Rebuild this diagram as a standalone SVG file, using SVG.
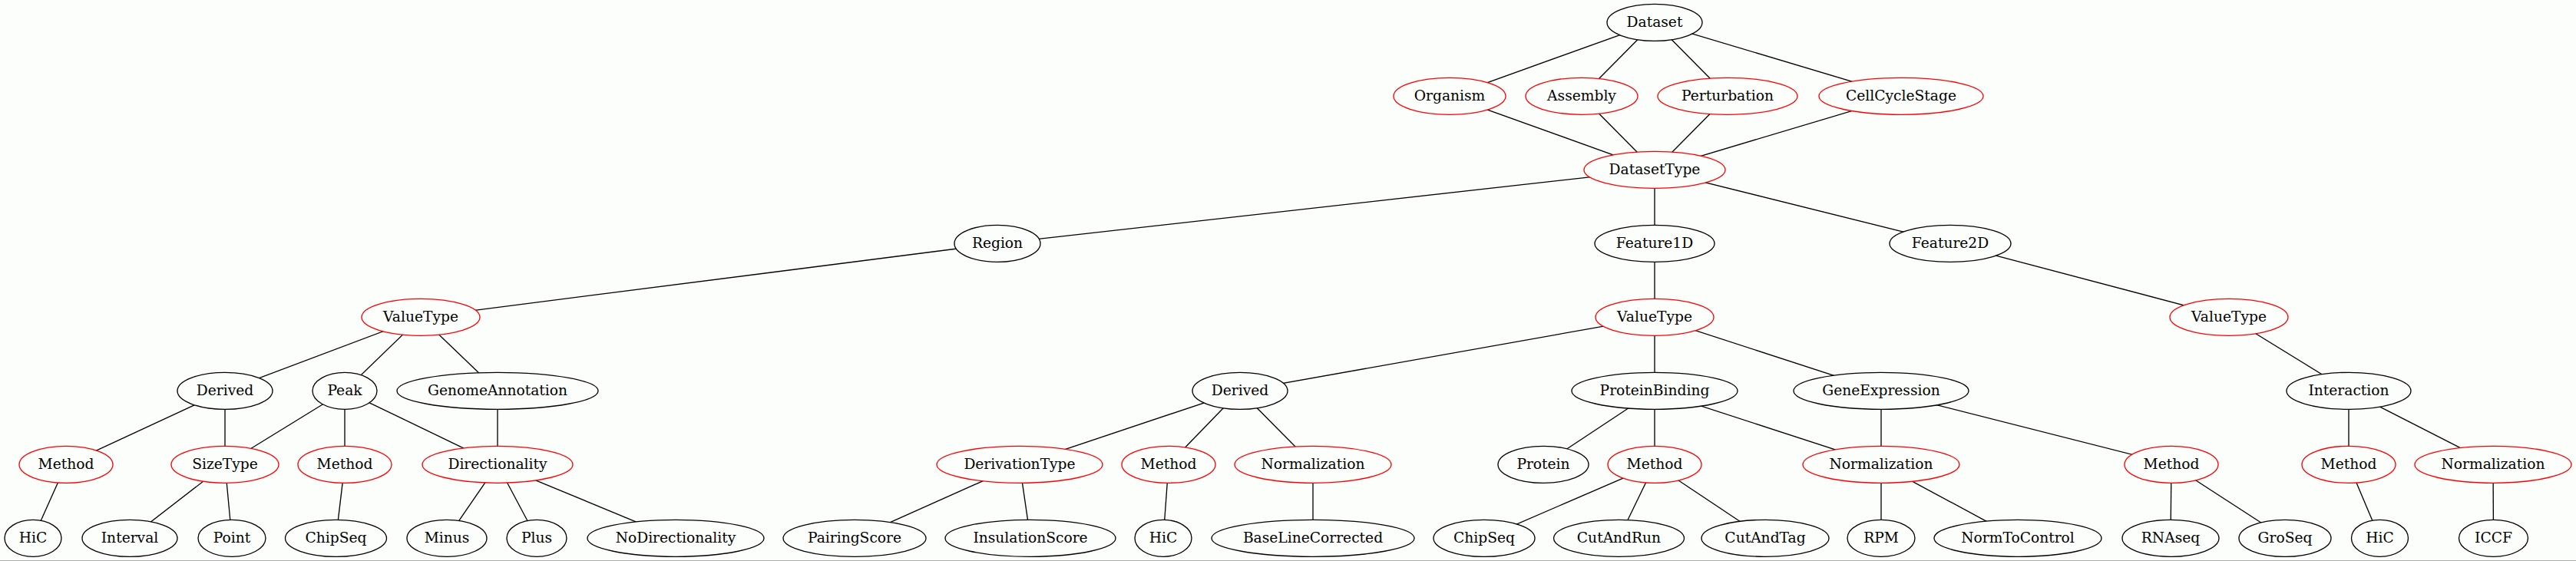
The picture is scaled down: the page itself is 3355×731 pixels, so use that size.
<svg xmlns="http://www.w3.org/2000/svg" width="3355" height="731" viewBox="0 0 3355 731">
<style>
.n ellipse{fill:#fcfefc;stroke:#000;stroke-width:1.33}
.r ellipse{stroke:#ff0000}
text{font-family:"DejaVu Serif","Liberation Serif",serif;font-size:18.67px;text-anchor:middle;fill:#000}
#edges line{stroke:#000;stroke-width:1.33}
</style>
<rect x="0" y="0" width="3355" height="731" fill="#fcfefc"/>
<rect x="0" y="730" width="3355" height="1" fill="#aaaaaa"/>
<g id="edges">
<line x1="2155" y1="29.3" x2="1888" y2="125.3"/>
<line x1="2155" y1="29.3" x2="2060" y2="125.3"/>
<line x1="2155" y1="29.3" x2="2250" y2="125.3"/>
<line x1="2155" y1="29.3" x2="2476" y2="125.3"/>
<line x1="1888" y1="125.3" x2="2155" y2="221.3"/>
<line x1="2060" y1="125.3" x2="2155" y2="221.3"/>
<line x1="2250" y1="125.3" x2="2155" y2="221.3"/>
<line x1="2476" y1="125.3" x2="2155" y2="221.3"/>
<line x1="2155" y1="221.3" x2="1299" y2="317.3"/>
<line x1="2155" y1="221.3" x2="2155" y2="317.3"/>
<line x1="2155" y1="221.3" x2="2540" y2="317.3"/>
<line x1="1299" y1="317.3" x2="548" y2="413.3"/>
<line x1="2155" y1="317.3" x2="2155" y2="413.3"/>
<line x1="2540" y1="317.3" x2="2903" y2="413.3"/>
<line x1="548" y1="413.3" x2="293" y2="509.3"/>
<line x1="548" y1="413.3" x2="449" y2="509.3"/>
<line x1="548" y1="413.3" x2="648" y2="509.3"/>
<line x1="293" y1="509.3" x2="86" y2="605.3"/>
<line x1="293" y1="509.3" x2="293" y2="605.3"/>
<line x1="449" y1="509.3" x2="293" y2="605.3"/>
<line x1="449" y1="509.3" x2="449" y2="605.3"/>
<line x1="449" y1="509.3" x2="648" y2="605.3"/>
<line x1="648" y1="509.3" x2="648" y2="605.3"/>
<line x1="86" y1="605.3" x2="43" y2="701.3"/>
<line x1="293" y1="605.3" x2="169" y2="701.3"/>
<line x1="293" y1="605.3" x2="302" y2="701.3"/>
<line x1="449" y1="605.3" x2="437.5" y2="701.3"/>
<line x1="648" y1="605.3" x2="582" y2="701.3"/>
<line x1="648" y1="605.3" x2="699" y2="701.3"/>
<line x1="648" y1="605.3" x2="880" y2="701.3"/>
<line x1="2155" y1="413.3" x2="1615" y2="509.3"/>
<line x1="2155" y1="413.3" x2="2155" y2="509.3"/>
<line x1="2155" y1="413.3" x2="2450" y2="509.3"/>
<line x1="1615" y1="509.3" x2="1328" y2="605.3"/>
<line x1="1615" y1="509.3" x2="1522" y2="605.3"/>
<line x1="1615" y1="509.3" x2="1710" y2="605.3"/>
<line x1="1328" y1="605.3" x2="1113" y2="701.3"/>
<line x1="1328" y1="605.3" x2="1342" y2="701.3"/>
<line x1="1522" y1="605.3" x2="1515" y2="701.3"/>
<line x1="1710" y1="605.3" x2="1710" y2="701.3"/>
<line x1="2155" y1="509.3" x2="2010" y2="605.3"/>
<line x1="2155" y1="509.3" x2="2155" y2="605.3"/>
<line x1="2155" y1="509.3" x2="2450" y2="605.3"/>
<line x1="2450" y1="509.3" x2="2450" y2="605.3"/>
<line x1="2450" y1="509.3" x2="2828" y2="605.3"/>
<line x1="2155" y1="605.3" x2="1933" y2="701.3"/>
<line x1="2155" y1="605.3" x2="2108.5" y2="701.3"/>
<line x1="2155" y1="605.3" x2="2299" y2="701.3"/>
<line x1="2450" y1="605.3" x2="2450" y2="701.3"/>
<line x1="2450" y1="605.3" x2="2628" y2="701.3"/>
<line x1="2828" y1="605.3" x2="2827" y2="701.3"/>
<line x1="2828" y1="605.3" x2="2976" y2="701.3"/>
<line x1="2903" y1="413.3" x2="3059" y2="509.3"/>
<line x1="3059" y1="509.3" x2="3059" y2="605.3"/>
<line x1="3059" y1="509.3" x2="3247" y2="605.3"/>
<line x1="3059" y1="605.3" x2="3099.5" y2="701.3"/>
<line x1="3247" y1="605.3" x2="3247.5" y2="701.3"/>
</g>
<g id="Dataset" class="n"><ellipse cx="2155" cy="29.3" rx="62" ry="24"/><text x="2155" y="34.6">Dataset</text></g>
<g id="Organism" class="n r"><ellipse cx="1888" cy="125.3" rx="73" ry="24"/><text x="1888" y="130.6">Organism</text></g>
<g id="Assembly" class="n r"><ellipse cx="2060" cy="125.3" rx="73" ry="24"/><text x="2060" y="130.6">Assembly</text></g>
<g id="Perturbation" class="n r"><ellipse cx="2250" cy="125.3" rx="91" ry="24"/><text x="2250" y="130.6">Perturbation</text></g>
<g id="CellCycleStage" class="n r"><ellipse cx="2476" cy="125.3" rx="107" ry="24"/><text x="2476" y="130.6">CellCycleStage</text></g>
<g id="DatasetType" class="n r"><ellipse cx="2155" cy="221.3" rx="92" ry="24"/><text x="2155" y="226.6">DatasetType</text></g>
<g id="Region" class="n"><ellipse cx="1299" cy="317.3" rx="56" ry="24"/><text x="1299" y="322.6">Region</text></g>
<g id="Feature1D" class="n"><ellipse cx="2155" cy="317.3" rx="78" ry="24"/><text x="2155" y="322.6">Feature1D</text></g>
<g id="Feature2D" class="n"><ellipse cx="2540" cy="317.3" rx="79" ry="24"/><text x="2540" y="322.6">Feature2D</text></g>
<g id="Region_ValueType" class="n r"><ellipse cx="548" cy="413.3" rx="77" ry="24"/><text x="548" y="418.6">ValueType</text></g>
<g id="Feature1D_ValueType" class="n r"><ellipse cx="2155" cy="413.3" rx="77" ry="24"/><text x="2155" y="418.6">ValueType</text></g>
<g id="Feature2D_ValueType" class="n r"><ellipse cx="2903" cy="413.3" rx="77" ry="24"/><text x="2903" y="418.6">ValueType</text></g>
<g id="Region_Derived" class="n"><ellipse cx="293" cy="509.3" rx="62" ry="24"/><text x="293" y="514.6">Derived</text></g>
<g id="Peak" class="n"><ellipse cx="449" cy="509.3" rx="42" ry="24"/><text x="449" y="514.6">Peak</text></g>
<g id="GenomeAnnotation" class="n"><ellipse cx="648" cy="509.3" rx="131" ry="24"/><text x="648" y="514.6">GenomeAnnotation</text></g>
<g id="Feature1D_Derived" class="n"><ellipse cx="1615" cy="509.3" rx="62" ry="24"/><text x="1615" y="514.6">Derived</text></g>
<g id="ProteinBinding" class="n"><ellipse cx="2155" cy="509.3" rx="108" ry="24"/><text x="2155" y="514.6">ProteinBinding</text></g>
<g id="GeneExpression" class="n"><ellipse cx="2450" cy="509.3" rx="114" ry="24"/><text x="2450" y="514.6">GeneExpression</text></g>
<g id="Interaction" class="n"><ellipse cx="3059" cy="509.3" rx="81" ry="24"/><text x="3059" y="514.6">Interaction</text></g>
<g id="Derived_Method" class="n r"><ellipse cx="86" cy="605.3" rx="61" ry="24"/><text x="86" y="610.6">Method</text></g>
<g id="SizeType" class="n r"><ellipse cx="293" cy="605.3" rx="70" ry="24"/><text x="293" y="610.6">SizeType</text></g>
<g id="Peak_Method" class="n r"><ellipse cx="449" cy="605.3" rx="61" ry="24"/><text x="449" y="610.6">Method</text></g>
<g id="Directionality" class="n r"><ellipse cx="648" cy="605.3" rx="98" ry="24"/><text x="648" y="610.6">Directionality</text></g>
<g id="DerivationType" class="n r"><ellipse cx="1328" cy="605.3" rx="108" ry="24"/><text x="1328" y="610.6">DerivationType</text></g>
<g id="F1Derived_Method" class="n r"><ellipse cx="1522" cy="605.3" rx="61" ry="24"/><text x="1522" y="610.6">Method</text></g>
<g id="F1Derived_Normalization" class="n r"><ellipse cx="1710" cy="605.3" rx="102" ry="24"/><text x="1710" y="610.6">Normalization</text></g>
<g id="Protein" class="n"><ellipse cx="2010" cy="605.3" rx="59" ry="24"/><text x="2010" y="610.6">Protein</text></g>
<g id="ProteinBinding_Method" class="n r"><ellipse cx="2155" cy="605.3" rx="61" ry="24"/><text x="2155" y="610.6">Method</text></g>
<g id="Expression_Normalization" class="n r"><ellipse cx="2450" cy="605.3" rx="102" ry="24"/><text x="2450" y="610.6">Normalization</text></g>
<g id="GeneExpression_Method" class="n r"><ellipse cx="2828" cy="605.3" rx="61" ry="24"/><text x="2828" y="610.6">Method</text></g>
<g id="Interaction_Method" class="n r"><ellipse cx="3059" cy="605.3" rx="61" ry="24"/><text x="3059" y="610.6">Method</text></g>
<g id="Interaction_Normalization" class="n r"><ellipse cx="3247" cy="605.3" rx="102" ry="24"/><text x="3247" y="610.6">Normalization</text></g>
<g id="HiC_1" class="n"><ellipse cx="43" cy="701.3" rx="37" ry="24"/><text x="43" y="706.6">HiC</text></g>
<g id="Interval" class="n"><ellipse cx="169" cy="701.3" rx="62" ry="24"/><text x="169" y="706.6">Interval</text></g>
<g id="Point" class="n"><ellipse cx="302" cy="701.3" rx="44" ry="24"/><text x="302" y="706.6">Point</text></g>
<g id="ChipSeq_1" class="n"><ellipse cx="437.5" cy="701.3" rx="66" ry="24"/><text x="437.5" y="706.6">ChipSeq</text></g>
<g id="Minus" class="n"><ellipse cx="582" cy="701.3" rx="52" ry="24"/><text x="582" y="706.6">Minus</text></g>
<g id="Plus" class="n"><ellipse cx="699" cy="701.3" rx="39" ry="24"/><text x="699" y="706.6">Plus</text></g>
<g id="NoDirectionality" class="n"><ellipse cx="880" cy="701.3" rx="115" ry="24"/><text x="880" y="706.6">NoDirectionality</text></g>
<g id="PairingScore" class="n"><ellipse cx="1113" cy="701.3" rx="93" ry="24"/><text x="1113" y="706.6">PairingScore</text></g>
<g id="InsulationScore" class="n"><ellipse cx="1342" cy="701.3" rx="111" ry="24"/><text x="1342" y="706.6">InsulationScore</text></g>
<g id="HiC_2" class="n"><ellipse cx="1515" cy="701.3" rx="37" ry="24"/><text x="1515" y="706.6">HiC</text></g>
<g id="BaseLineCorrected" class="n"><ellipse cx="1710" cy="701.3" rx="132" ry="24"/><text x="1710" y="706.6">BaseLineCorrected</text></g>
<g id="ChipSeq_2" class="n"><ellipse cx="1933" cy="701.3" rx="66" ry="24"/><text x="1933" y="706.6">ChipSeq</text></g>
<g id="CutAndRun" class="n"><ellipse cx="2108.5" cy="701.3" rx="85" ry="24"/><text x="2108.5" y="706.6">CutAndRun</text></g>
<g id="CutAndTag" class="n"><ellipse cx="2299" cy="701.3" rx="83" ry="24"/><text x="2299" y="706.6">CutAndTag</text></g>
<g id="RPM" class="n"><ellipse cx="2450" cy="701.3" rx="44" ry="24"/><text x="2450" y="706.6">RPM</text></g>
<g id="NormToControl" class="n"><ellipse cx="2628" cy="701.3" rx="109" ry="24"/><text x="2628" y="706.6">NormToControl</text></g>
<g id="RNAseq" class="n"><ellipse cx="2827" cy="701.3" rx="63" ry="24"/><text x="2827" y="706.6">RNAseq</text></g>
<g id="GroSeq" class="n"><ellipse cx="2976" cy="701.3" rx="60" ry="24"/><text x="2976" y="706.6">GroSeq</text></g>
<g id="HiC_3" class="n"><ellipse cx="3099.5" cy="701.3" rx="37" ry="24"/><text x="3099.5" y="706.6">HiC</text></g>
<g id="ICCF" class="n"><ellipse cx="3247.5" cy="701.3" rx="45" ry="24"/><text x="3247.5" y="706.6">ICCF</text></g>
</svg>
